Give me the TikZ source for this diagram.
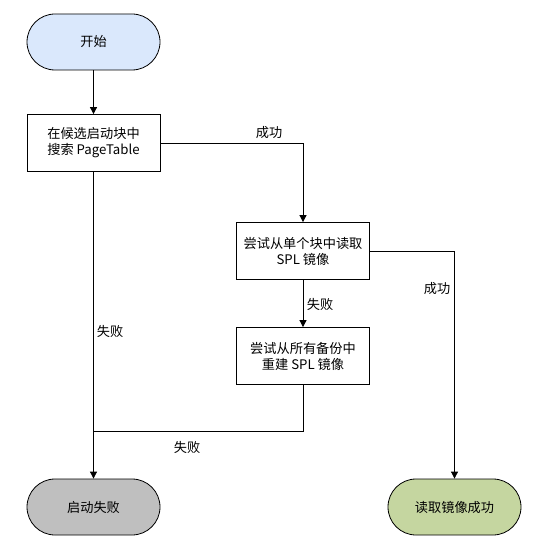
\documentclass[tikz,border=0pt]{standalone}
\usepackage{fontspec}
\setmainfont{Noto Sans CJK SC}
\usetikzlibrary{arrows.meta}
\definecolor{startc}{HTML}{DAE8FC}
\definecolor{failc}{HTML}{BFBFBF}
\definecolor{okc}{HTML}{C5D6A0}
\tikzset{
  x=1pt,y=-1pt,
  base/.style={draw=black,line width=0.8pt,font=\fontsize{13.2}{16}\selectfont,align=center,inner sep=0pt},
  term/.style={base,minimum width=133pt,minimum height=56pt,rounded corners=28pt},
  procbox/.style={base,minimum width=133pt,minimum height=57pt},
  conn/.style={line width=0.8pt,-{Triangle[length=7pt,width=7pt]}},
  plain/.style={line width=0.8pt},
  lbl/.style={font=\fontsize{13.2}{16}\selectfont,inner sep=0pt}
}
\begin{document}
\begin{tikzpicture}
\useasboundingbox (0,0) rectangle (545,556);
\node[term,fill=startc] (start) at (93.5,42) {开始};
\node[procbox] (search) at (93.5,143) {在候选启动块中\\搜索 PageTable};
\node[procbox] (read) at (303,251) {尝试从单个块中读取\\SPL 镜像};
\node[procbox] (rebuild) at (303,356) {尝试从所有备份中\\重建 SPL 镜像};
\node[term,fill=failc] (fail) at (93.5,507) {启动失败};
\node[term,fill=okc] (ok) at (454.5,507) {读取镜像成功};
\coordinate (j) at (93.5,431);
\draw[conn] (start) -- (search);
\draw[conn] (search.east) -| (read.north);
\draw[conn] (read.east) -| (ok.north);
\draw[conn] (read) -- (rebuild);
\draw[conn] (search) -- (fail);
\draw[plain] (rebuild.south) |- (j);
\node[lbl] (l1) at (269,133) {成功};
\node[lbl] (l2) at (437,289) {成功};
\node[lbl] (l3) at (320,304) {失败};
\node[lbl] (l4) at (110,331) {失败};
\node[lbl] (l5) at (187,447) {失败};
\end{tikzpicture}
\end{document}
